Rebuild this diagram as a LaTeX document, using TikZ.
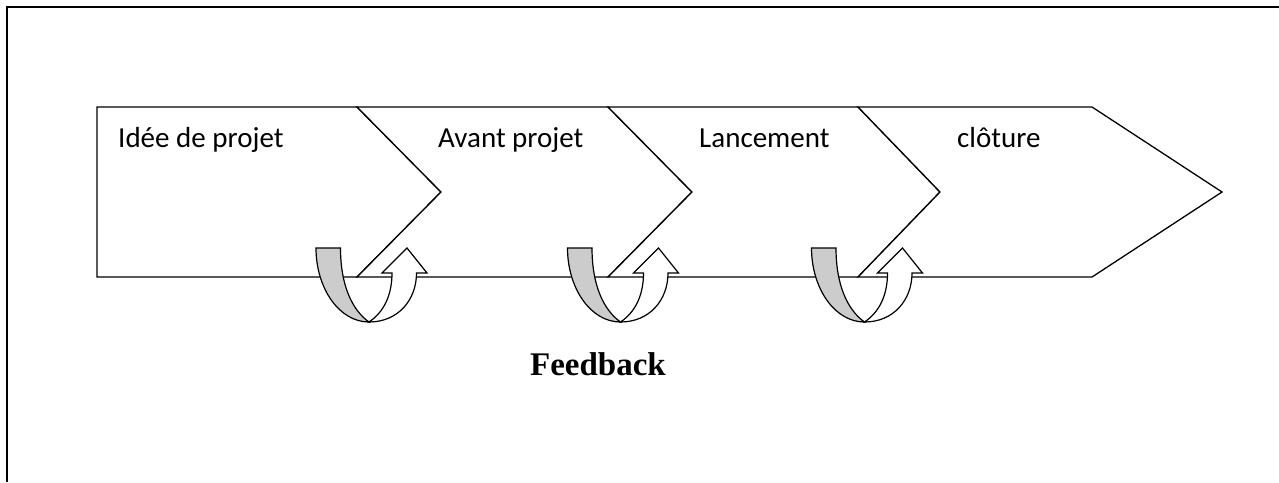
\documentclass[tikz,border=0pt]{standalone}
\usepackage{fontspec}
\setmainfont{Carlito}
\newfontfamily\fbfont{Liberation Serif}
\definecolor{ribbongray}{RGB}{204,204,204}
\tikzset{
  stage/.style={draw=black, fill=white, line width=1.3pt, line join=miter},
  stagelabel/.style={anchor=base west, inner sep=0pt, font=\fontsize{29}{35}\selectfont},
  ribbonback/.style={draw=black, fill=ribbongray, line width=1.2pt},
  ribbonfront/.style={draw=black, fill=white, line width=1.2pt, line join=miter},
  frameline/.style={draw=black, line width=2.2pt}
}
\newcommand\loopback[2]{%
  \begin{scope}[shift={(#1,0)}]
    \path[ribbonback] (0,248) -- (24.5,248) .. controls (24.5,285) and (36,310) .. (53,322)
      .. controls (23,322) and (0,288) .. (0,248) -- cycle;
    \path[ribbonfront] (53,322) .. controls (82,322) and (100.5,300) .. (100.5,273)
      -- (111,273) -- (91,248) -- (66,273) -- (76,273)
      .. controls (76,295) and (68,312) .. (53,322) -- cycle;
    \coordinate (#2) at (91,248);
  \end{scope}}
\begin{document}
\begin{tikzpicture}[x=1pt, y=-1pt]
  \useasboundingbox (0,0) rectangle (1279,482);
  \draw[frameline] (7,482) -- (7,7) -- (1279,7);
  % stages
  \path[stage] (97,107) -- (357,107) -- (441,192) -- (357,277) -- (97,277) -- cycle;
  \path[stage] (357,107) -- (608,107) -- (692,192) -- (608,277) -- (357,277) -- (441,192) -- cycle;
  \path[stage] (608,107) -- (858,107) -- (940,192) -- (858,277) -- (608,277) -- (692,192) -- cycle;
  \path[stage] (858,107) -- (1092,107) -- (1222,192) -- (1092,277) -- (858,277) -- (940,192) -- cycle;
  \node[stagelabel] (s1) at (118,147) {Idée de projet};
  \node[stagelabel] (s2) at (438,147) {Avant projet};
  \node[stagelabel] (s3) at (699,147) {Lancement};
  \node[stagelabel] (s4) at (957,147) {clôture};
  % feedback loops
  \loopback{316}{f1}
  \loopback{567.5}{f2}
  \loopback{811.5}{f3}
  \node[anchor=base, inner sep=0pt, font=\fbfont\bfseries\fontsize{33}{39}\selectfont] (fb) at (598,375) {Feedback};
\end{tikzpicture}
\end{document}
